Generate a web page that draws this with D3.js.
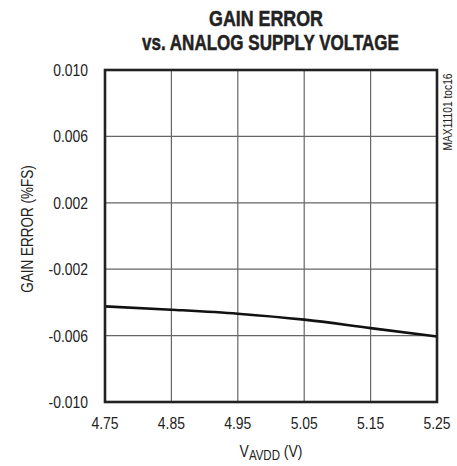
<!DOCTYPE html>
<html>
<head>
<meta charset="utf-8">
<script src="https://cdn.jsdelivr.net/npm/d3@7"></script>
<style>
  body { margin: 0; background: #fff; }
  text { font-family: "Liberation Sans", Arial, sans-serif; fill: #222; }
</style>
</head>
<body>
<svg id="chart" width="457" height="466"></svg>
<script>
// supply voltage (V) and gain error (%FS)
var vavdd = [4.75, 4.85, 4.95, 5.05, 5.15, 5.25];
var gainError = [-0.00424, -0.00444, -0.00468, -0.00504, -0.00555, -0.00605];
var xTicks = [4.75, 4.85, 4.95, 5.05, 5.15, 5.25];
var yTicks = [0.010, 0.006, 0.002, -0.002, -0.006, -0.010];
var titleLines = ["GAIN ERROR", "vs. ANALOG SUPPLY VOLTAGE"];

var svg = d3.select("#chart"),
    margin = {top: 70, right: 20, bottom: 64, left: 105},
    width = +svg.attr("width") - margin.left - margin.right,
    height = +svg.attr("height") - margin.top - margin.bottom,
    g = svg.append("g").attr("transform", "translate(" + margin.left + "," + margin.top + ")");

var x = d3.scaleLinear().domain([4.75, 5.25]).range([0, width]);
var y = d3.scaleLinear().domain([-0.010, 0.010]).range([height, 0]);

var narrow = 0.82; // squeeze Liberation Sans to look like a condensed face

// grid
g.append("g").selectAll("line")
  .data(xTicks.slice(1, -1))
  .enter().append("line")
    .attr("x1", function(d) { return x(d); })
    .attr("x2", function(d) { return x(d); })
    .attr("y1", 0).attr("y2", height)
    .attr("stroke", "#666").attr("stroke-width", 1.2);

g.append("g").selectAll("line")
  .data(yTicks.slice(1, -1))
  .enter().append("line")
    .attr("y1", function(d) { return y(d); })
    .attr("y2", function(d) { return y(d); })
    .attr("x1", 0).attr("x2", width)
    .attr("stroke", "#666").attr("stroke-width", 1.2);

// curve
var line = d3.line()
  .x(function(d, i) { return x(vavdd[i]); })
  .y(function(d) { return y(d); })
  .curve(d3.curveMonotoneX);

g.append("path")
  .datum(gainError)
  .attr("d", line)
  .attr("fill", "none")
  .attr("stroke", "#111")
  .attr("stroke-width", 2.6);

// frame
g.append("rect")
  .attr("width", width).attr("height", height)
  .attr("fill", "none").attr("stroke", "#222").attr("stroke-width", 2.6);

// tick labels
g.append("g").selectAll("text")
  .data(xTicks)
  .enter().append("text")
    .attr("transform", function(d) { return "translate(" + x(d) + "," + (height + 27) + ") scale(" + narrow + ",1)"; })
    .attr("text-anchor", "middle")
    .style("font-size", "17px")
    .text(d3.format(".2f"));

g.append("g").selectAll("text")
  .data(yTicks)
  .enter().append("text")
    .attr("transform", function(d) { return "translate(-17," + (y(d) + 6) + ") scale(" + narrow + ",1)"; })
    .attr("text-anchor", "end")
    .style("font-size", "17px")
    .text(function(d) { return d3.format(".3f")(d).replace("\u2212", "-"); });

// title: heavy condensed look, squeezed to the widths seen in the reference
var titleSpec = [{cx: 266, y: 26, w: 114}, {cx: 270.5, y: 50, w: 257}];
svg.append("g").selectAll("text")
  .data(titleLines)
  .enter().append("text")
    .attr("text-anchor", "middle")
    .style("font-size", "22.5px").style("font-weight", "bold")
    .attr("stroke", "#222").attr("stroke-width", 0.5)
    .text(function(d) { return d; })
    .attr("transform", function(d, i) {
      var s = titleSpec[i], len = this.getComputedTextLength();
      return "translate(" + s.cx + "," + s.y + ") scale(" + (s.w / len) + ",1)";
    });

svg.append("text")
  .attr("transform", "translate(33,229) rotate(-90) scale(" + narrow + ",1)")
  .attr("text-anchor", "middle")
  .style("font-size", "16.5px")
  .text("GAIN ERROR (%FS)");

var xt = svg.append("text")
  .attr("transform", "translate(271,457) scale(" + narrow + ",1)")
  .attr("text-anchor", "middle")
  .style("font-size", "17px");
xt.append("tspan").text("V");
xt.append("tspan").style("font-size", "14px").attr("dy", 3).text("AVDD");
xt.append("tspan").attr("dy", -3).text(" (V)");

svg.append("text")
  .attr("transform", "translate(452,112) rotate(-90) scale(" + narrow + ",1)")
  .attr("text-anchor", "middle")
  .style("font-size", "12.5px")
  .text("MAX11101 toc16");
</script>
</body>
</html>
